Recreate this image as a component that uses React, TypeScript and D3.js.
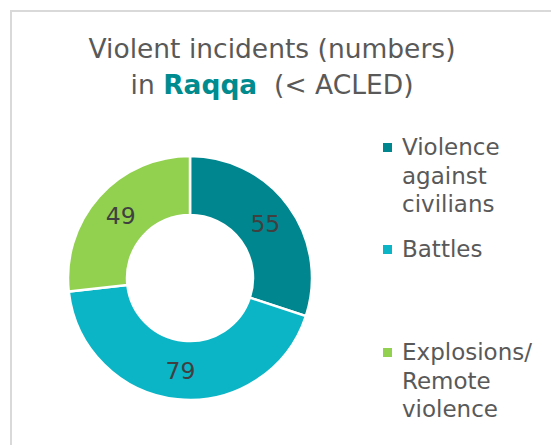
import React from "react";
import * as d3 from "d3";

const categories = ["Violence against civilians", "Battles", "Explosions/Remote violence"];
const values = [55, 79, 49];
const legendLines = [["Violence", "against", "civilians"], ["Battles"], ["Explosions/", "Remote", "violence"]];
const colors = ["#00868F", "#0BB5C6", "#92D050"];

const W = 551;
const H = 445;
const FONT = "'DejaVu Sans', Verdana, sans-serif";

export default function App() {
  const cx = 190;
  const cy = 278;
  const outerR = 122;
  const innerR = 63;
  const pie = d3.pie<number>().sort(null).startAngle(0).endAngle(2 * Math.PI);
  const arcs = pie(values);
  const arc = d3.arc<d3.PieArcDatum<number>>().innerRadius(innerR).outerRadius(outerR);
  const labelArc = d3.arc<d3.PieArcDatum<number>>().innerRadius(93).outerRadius(93);

  const legendY = [155, 257, 360];
  const lineH = 28.5;

  return (
    <svg width={W} height={H} style={{ position: "absolute", left: 0, top: 0, background: "#fff" }}>
      <rect x={11} y={11} width={W} height={H} fill="#fff" stroke="#D9D9D9" strokeWidth={2} />
      <text x={272} y={58} textAnchor="middle" fontFamily={FONT} fontSize={26.5} fill="#595959">
        Violent incidents (numbers)
      </text>
      <text x={272} y={94} textAnchor="middle" fontFamily={FONT} fontSize={26.5} fill="#595959">
        in <tspan fontWeight="bold" fill="#008B8F">Raqqa</tspan>
        <tspan>{"\u00a0 (< ACLED)"}</tspan>
      </text>
      <g transform={`translate(${cx},${cy})`}>
        {arcs.map((a, i) => (
          <path key={categories[i]} d={arc(a) || ""} fill={colors[i]} stroke="#fff" strokeWidth={2.5} />
        ))}
        {arcs.map((a, i) => {
          const [x, y] = labelArc.centroid(a);
          return (
            <text key={"l" + i} x={x} y={y} dy="0.36em" textAnchor="middle" fontFamily={FONT} fontSize={23.5} fill="#404040">
              {values[i]}
            </text>
          );
        })}
      </g>
      {legendLines.map((lines, i) => (
        <g key={"lg" + i}>
          <rect x={383} y={legendY[i] - 12} width={9} height={9} fill={colors[i]} />
          {lines.map((t, j) => (
            <text key={j} x={402} y={legendY[i] + j * lineH} fontFamily={FONT} fontSize={23} fill="#595959">
              {t}
            </text>
          ))}
        </g>
      ))}
    </svg>
  );
}
